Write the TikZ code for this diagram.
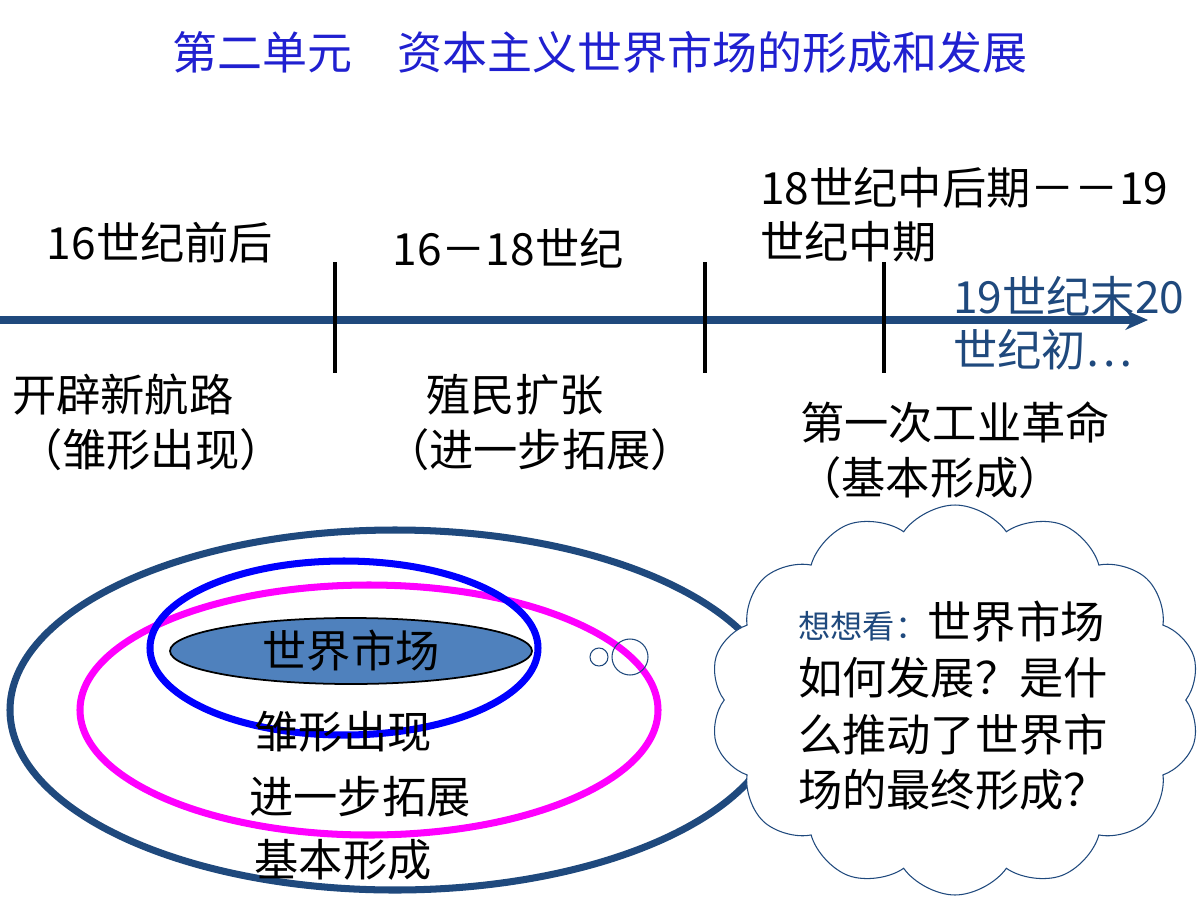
\documentclass[tikz,border=0pt]{standalone}
\usepackage{fontspec}
\newfontfamily\cjk{Noto Sans CJK SC}
\usetikzlibrary{shapes.symbols,arrows.meta}
\definecolor{dblue}{HTML}{1F497D}
\definecolor{ttl}{HTML}{2020D0}
\definecolor{fillb}{HTML}{4F81BD}
\definecolor{mag}{HTML}{FF00FF}
\definecolor{rblue}{HTML}{0000FF}
\begin{document}
\begin{tikzpicture}[x=0.05cm,y=-0.05cm,
  lbl/.style={font=\cjk\fontsize{63}{70}\selectfont,inner sep=0},
  ring/.style={line width=10pt}]
\useasboundingbox[fill=white] (0,0) rectangle (1200,900);
\node[font=\cjk\fontsize{64}{70}\selectfont,inner sep=0,text=ttl] (title) at (600,52) {第二单元\hspace{1em}资本主义世界市场的形成和发展};
\coordinate (ls) at (0,320); \coordinate (le) at (1148,320);
\draw[dblue,line width=10pt,-{Stealth[length=32pt,width=28pt]}] (ls) -- (le);
\foreach \x/\n in {335/a,705/b,884/c}{
  \coordinate (t\n1) at (\x,262); \coordinate (t\n2) at (\x,373);
  \draw[line width=5pt] (t\n1) -- (t\n2);}
\node[lbl] (p1) at (160,243) {16世纪前后};
\node[lbl] (p2) at (508,248) {16－18世纪};
\node[lbl,anchor=west] (p3a) at (760,188) {18世纪中后期－－19};
\node[lbl,anchor=west] (p3b) at (760,242) {世纪中期};
\node[lbl,anchor=west,text=dblue] (p4a) at (953,297) {19世纪末20};
\node[lbl,anchor=west,text=dblue] (p4b) at (953,350) {世纪初…};
\node[lbl,anchor=west] (e1a) at (12,395) {开辟新航路};
\node[lbl,anchor=west] (e1b) at (18,450) {（雏形出现）};
\node[lbl] (e2a) at (515,395) {殖民扩张};
\node[lbl] (e2b) at (540,450) {（进一步拓展）};
\node[lbl] (e3a) at (955,422) {第一次工业革命};
\node[lbl] (e3b) at (930,478) {（基本形成）};
\draw[dblue,ring] (395,710) ellipse [x radius=385,y radius=180];
\draw[mag,ring] (369,710) ellipse [x radius=289,y radius=125];
\draw[rblue,ring] (344,648) ellipse [x radius=194,y radius=87];
\draw[fill=fillb,line width=2.5pt] (351,651) ellipse [x radius=181,y radius=33];
\node[lbl] (m) at (351,651) {世界市场};
\node[lbl] (i1) at (343,732) {雏形出现};
\node[lbl] (i2) at (360,797) {进一步拓展};
\node[lbl] (i3) at (343,860) {基本形成};
\draw[dblue,line width=1.5pt] (599,657) circle (9);
\draw[dblue,line width=1.5pt] (630,657) circle (18);
\node[cloud,draw=dblue,line width=1.5pt,fill=white,cloud puffs=14,cloud puff arc=110,aspect=1.25,minimum width=24.5cm,minimum height=19.5cm,inner sep=0] (cl2) at (955,700) {};
\node[anchor=west,inner sep=0] (q1) at (798,622) {\textcolor{dblue}{\cjk\fontsize{46}{50}\selectfont 想想看：}{\cjk\fontsize{63}{70}\selectfont 世界市场}};
\node[lbl,anchor=west] (q2) at (798,678) {如何发展？是什};
\node[lbl,anchor=west] (q3) at (798,735) {么推动了世界市};
\node[lbl,anchor=west] (q4) at (798,790) {场的最终形成？};
\end{tikzpicture}
\end{document}
